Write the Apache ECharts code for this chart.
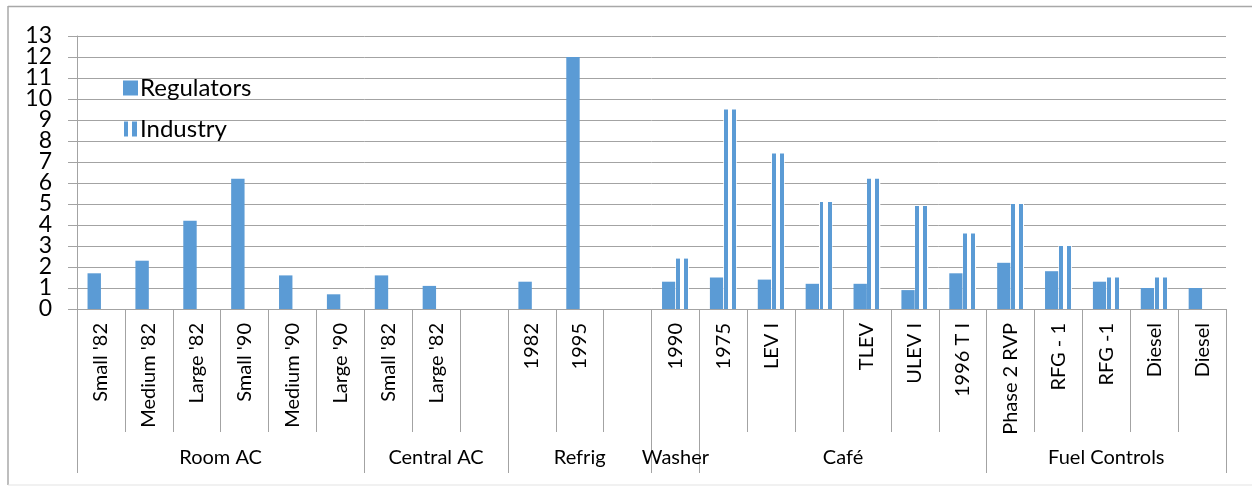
<!DOCTYPE html>
<html>
<head>
<meta charset="utf-8">
<script src="https://cdn.jsdelivr.net/npm/echarts@6/dist/echarts.min.js"></script>
<style>html,body{margin:0;padding:0;background:#fff}#c{width:1252px;height:486px}</style>
</head>
<body>
<div id="c"></div>
<script>
var categoryLabels = ["Small '82","Medium '82","Large '82","Small '90","Medium '90","Large '90",
  "Small '82","Large '82","",
  "1982","1995","",
  "1990",
  "1975","LEV I","","TLEV","ULEV I","1996 T I",
  "Phase 2 RVP","RFG - 1","RFG -1","Diesel","Diesel"];
var regulators = [1.7,2.3,4.2,6.2,1.6,0.7, 1.6,1.1,null, 1.3,12.0,null, 1.3, 1.5,1.4,1.2,1.2,0.9,1.7, 2.2,1.8,1.3,1.0,1.0];
var industry   = [null,null,null,null,null,null, null,null,null, null,null,null, 2.4, 9.5,7.4,5.1,6.2,4.9,3.6, 5.0,3.0,1.5,1.5,null];
var groupNames = ["Room AC","Central AC","Refrig","Washer","Café","Fuel Controls"];
var groupSizes = [6,3,3,1,6,5];
var yTicks = [0,1,2,3,4,5,6,7,8,9,10,11,12,13];

var boundaries = [0], centers = [], acc = 0;
groupSizes.forEach(function(n){ centers.push(acc + n/2); acc += n; boundaries.push(acc); });
var centerName = {};
centers.forEach(function(c,i){ centerName[c] = groupNames[i]; });

var blue = '#5B9BD5';
var grey = '#a3a3a3';
var font = 'Lato';
var stripe = {
  type:'linear', x:0, y:0, x2:1, y2:0,
  colorStops:[
    {offset:0, color:'#fff'},{offset:0.04, color:'#fff'},
    {offset:0.04, color:blue},{offset:0.33, color:blue},
    {offset:0.33, color:'#fff'},{offset:0.63, color:'#fff'},
    {offset:0.63, color:blue},{offset:0.93, color:blue},
    {offset:0.93, color:'#fff'},{offset:1, color:'#fff'}
  ]
};

function yAxisDef(parity, primary) {
  return {
    type:'value', min:0, max:13, interval:1, position:'left',
    axisLine:{show:primary, onZero:false, lineStyle:{color:grey, width:1}},
    axisTick:{show:primary, length:9, lineStyle:{color:grey, width:1}},
    axisLabel:{margin:25, fontSize:23, color:'#000', fontFamily:font,
      showMinLabel:true, showMaxLabel:true,
      formatter:function(v){ return (yTicks.indexOf(v) >= 0 && v % 2 === parity) ? String(v) : ''; }},
    splitLine:{show:primary, lineStyle:{color:grey, width:1}}
  };
}

var chart = echarts.init(document.getElementById('c'), null, {renderer:'canvas'});
chart.setOption({
  animation:false,
  textStyle:{fontFamily:font},
  grid:{left:77, right:26, top:36, bottom:177, containLabel:false},
  legend:{
    orient:'vertical', left:118, top:71, itemWidth:15, itemHeight:15, itemGap:17,
    textStyle:{fontFamily:font, fontSize:24, color:'#000', lineHeight:24, padding:[0,0,0,-3]},
    data:[{name:'Regulators', icon:'rect'},{name:'Industry', icon:'rect'}]
  },
  xAxis:[{
    type:'category',
    data:categoryLabels.map(function(_,i){return String(i);}),
    boundaryGap:true, position:'bottom',
    axisLine:{onZero:false, lineStyle:{color:grey, width:1}},
    axisTick:{show:true, interval:0, length:123, lineStyle:{color:grey, width:1}},
    axisLabel:{interval:0, rotate:90, margin:14, fontSize:20, color:'#000', fontFamily:font,
      formatter:function(v,i){ return categoryLabels[+v]; }},
    splitLine:{show:false}
  },{
    type:'value', min:0, max:acc, position:'bottom', offset:123,
    axisLine:{show:true, onZero:false, lineStyle:{color:'rgba(0,0,0,0)', width:0}},
    axisTick:{show:true, length:41, customValues:boundaries, lineStyle:{color:grey, width:1}},
    axisLabel:{show:true, customValues:centers, margin:16, fontSize:20, color:'#000', fontFamily:font,
      formatter:function(v){ return centerName[v] || ''; }},
    splitLine:{show:false}
  }],
  yAxis:[yAxisDef(0, true), yAxisDef(1, false)],
  series:[{
    name:'Regulators', type:'bar', xAxisIndex:0, yAxisIndex:0, data:regulators,
    barGap:'0%', barCategoryGap:'44%',
    itemStyle:{color:blue}
  },{
    name:'Industry', type:'bar', xAxisIndex:0, yAxisIndex:0, data:industry,
    barGap:'0%', barCategoryGap:'44%',
    itemStyle:{color:stripe}
  }],
  graphic:[
    {type:'line', shape:{x1:8, y1:6.5, x2:1252, y2:6.5}, style:{stroke:'#a8a8a8', lineWidth:1.5}, silent:true},
    {type:'line', shape:{x1:8, y1:6, x2:8, y2:485}, style:{stroke:'#a8a8a8', lineWidth:1.5}, silent:true},
    {type:'line', shape:{x1:8, y1:485, x2:1252, y2:485}, style:{stroke:'#e3e3e3', lineWidth:1}, silent:true}
  ]
});
</script>
</body>
</html>
